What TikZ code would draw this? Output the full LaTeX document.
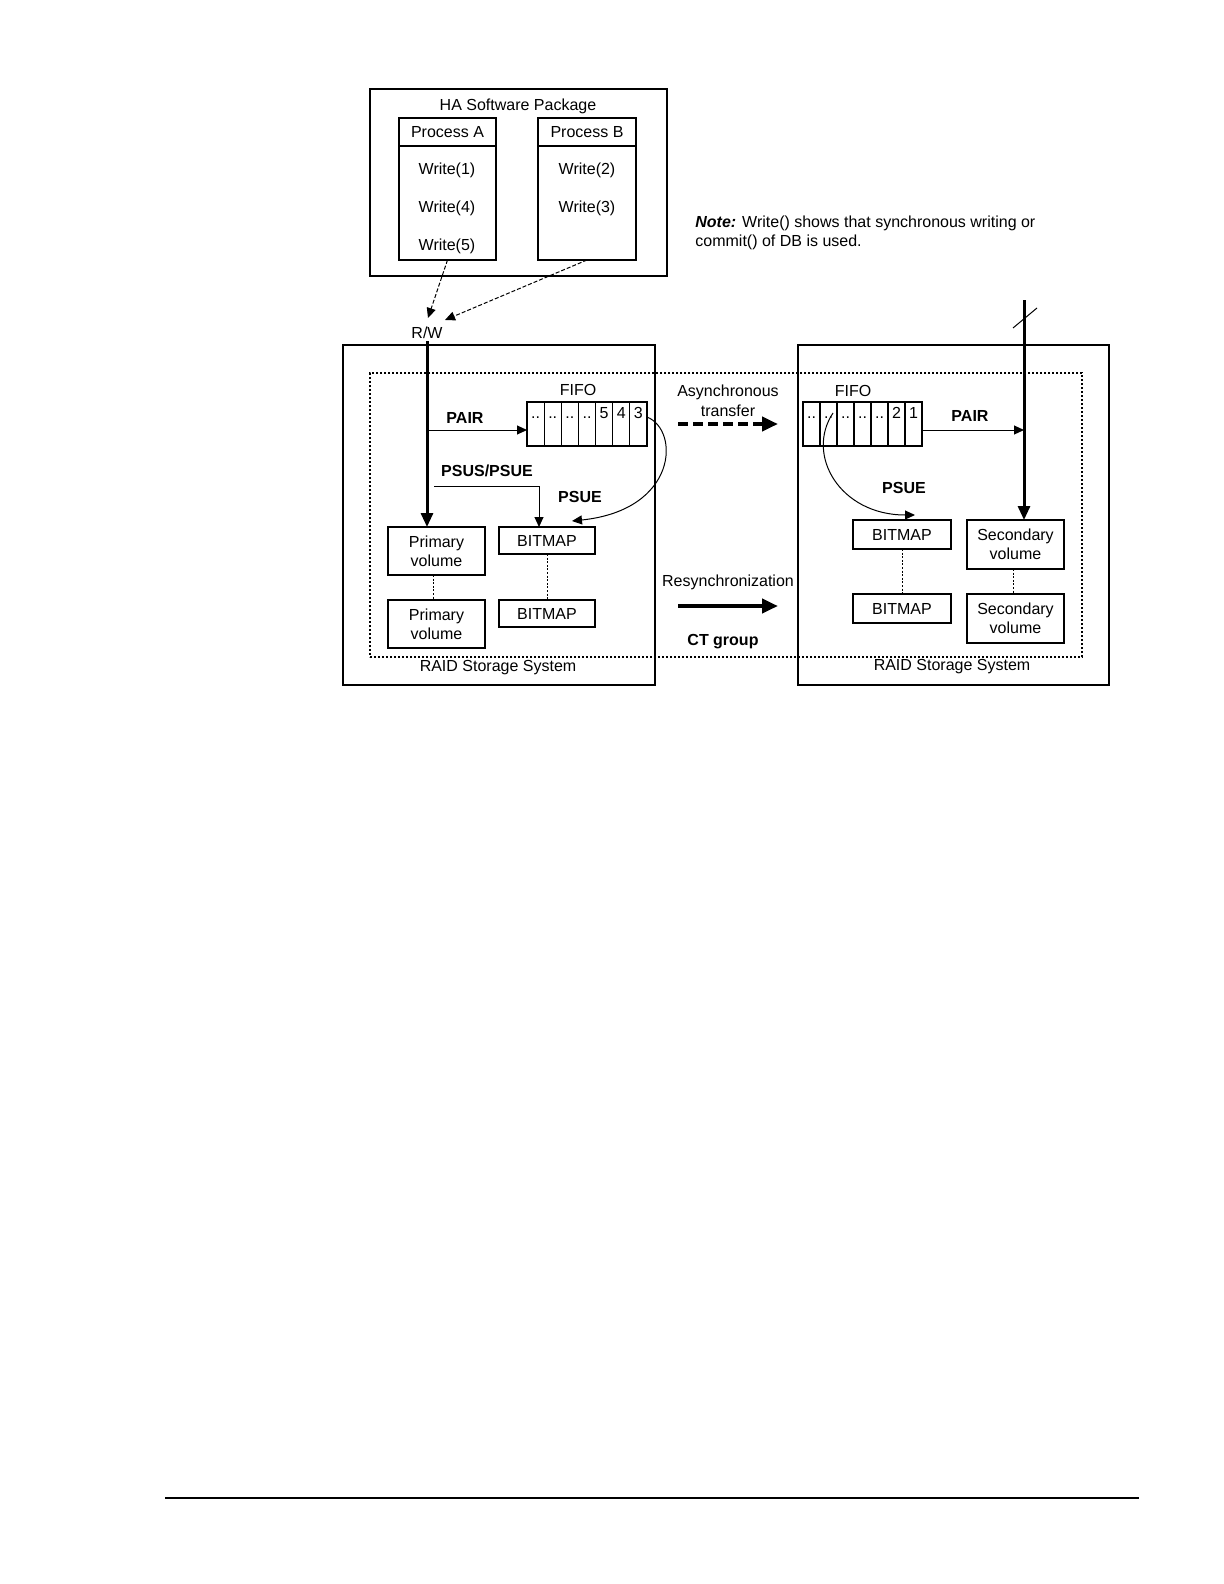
\documentclass[tikz,border=0pt]{standalone}
\usepackage{fontspec}
\setmainfont{Liberation Sans}
\usetikzlibrary{arrows.meta,positioning}

\begin{document}
\begin{tikzpicture}[x=0.5pt, y=-0.5pt,
  every node/.style={font=\fontsize{8}{9.6}\selectfont, inner sep=0pt},
  box/.style={rectangle, draw, line width=0.7pt, outer sep=0pt, align=center},
  sysbox/.style={box, line width=0.6pt},
  cell/.style={rectangle, draw, line width=0.6pt, outer sep=0pt,
               minimum width=8.57pt, minimum height=22pt},
  lbl/.style={font=\fontsize{8}{9.6}\selectfont\bfseries},
  arrow/.style={-{Triangle[length=5pt,width=4.5pt]}, line width=0.5pt},
  dasharrow/.style={arrow, dash pattern=on 2pt off 1pt},
  thickarrow/.style={-{Triangle[length=7pt,width=6pt]}, line width=1.5pt},
  bigarrow/.style={-{Triangle[length=8pt,width=7pt]}, line width=2pt},
  link/.style={dash pattern=on 1pt off 0.8pt, line width=0.5pt}
]
  \useasboundingbox (0,0) rectangle (1224,1584);

  % host side
  \node[box, minimum width=148.5pt, minimum height=93.5pt] (ha) at (518.5,182.5) {};
  \node (hatitle) at (518,106) {HA Software Package};

  \node[box, minimum width=48.5pt, minimum height=14pt] (pa) at (447.5,132) {Process A};
  \node[box, minimum width=48.5pt, minimum height=57pt, below=0pt of pa] (pabody) {};
  \node[box, minimum width=49pt, minimum height=14pt] (pb) at (587,132) {Process B};
  \node[box, minimum width=49pt, minimum height=57pt, below=0pt of pb] (pbbody) {};

  \node (w1) at (447,170) {Write(1)};
  \node (w4) at (447,208) {Write(4)};
  \node (w5) at (447,246) {Write(5)};
  \node (w2) at (587,170) {Write(2)};
  \node (w3) at (587,208) {Write(3)};

  \node[align=left, anchor=west] (note) at (695,233)
    {{\bfseries\itshape Note:} Write() shows that synchronous writing or\\commit() of DB is used.};

  \node (rw) at (427,333) {R/W};
  \coordinate (rwa) at (428,318);
  \coordinate (rwb) at (445,320);
  \draw[dasharrow] (pabody.south) -- (rwa);
  \draw[dasharrow] (pbbody.south) -- (rwb);

  % storage systems
  \node[sysbox, minimum width=156pt, minimum height=170pt] (raidL) at (499,515) {};
  \node[sysbox, minimum width=155.5pt, minimum height=170pt] (raidR) at (953.5,515) {};
  \node[rectangle, draw, dash pattern=on 1.2pt off 0.8pt, line width=0.55pt,
        minimum width=356pt, minimum height=142pt] (ctbox) at (726,515) {};
  \node (raidLlbl) at (498,668) {RAID Storage System};
  \node (raidRlbl) at (952,667) {RAID Storage System};

  % FIFO queues
  \node (fifoLlbl) at (578,390) {FIFO};
  \foreach \cellval [count=\i] in {{..},{..},{..},{..},5,4,3} {
    \node[cell] (fl\i) at ({527+17.14*(\i-0.5)},424) {};
    \node[anchor=base] at ({527+17.14*(\i-0.5)},418) {\cellval};
  }
  \node (fifoRlbl) at (853,391) {FIFO};
  \foreach \cellval [count=\i] in {{..},{..},{..},{..},{..},2,1} {
    \node[cell] (fr\i) at ({803+17*(\i-0.5)},424) {};
    \node[anchor=base] at ({803+17*(\i-0.5)},418) {\cellval};
  }

  % volumes and bitmaps
  \node[box, minimum width=48.5pt, minimum height=24pt] (pv1) at (436.5,551) {Primary\\volume};
  \node[box, minimum width=48.5pt, minimum height=24pt] (pv2) at (436.5,624) {Primary\\volume};
  \node[box, minimum width=48pt, minimum height=13.5pt] (bmL1) at (547,540.5) {BITMAP};
  \node[box, minimum width=48pt, minimum height=13.5pt] (bmL2) at (547,613.5) {BITMAP};
  \node[box, minimum width=49pt, minimum height=14.5pt] (bmR1) at (902,534.5) {BITMAP};
  \node[box, minimum width=49pt, minimum height=14.5pt] (bmR2) at (902,608.5) {BITMAP};
  \node[box, minimum width=48.5pt, minimum height=24.5pt] (sv1) at (1015.5,544.5) {Secondary\\volume};
  \node[box, minimum width=48.5pt, minimum height=24.5pt] (sv2) at (1015.5,618.5) {Secondary\\volume};

  \draw[link] ([xshift=-1.75pt]pv1.south) -- ([xshift=-1.75pt]pv2.north);
  \draw[link] (bmL1.south) -- (bmL2.north);
  \draw[link] (bmR1.south) -- (bmR2.north);
  \draw[link] ([xshift=-1.25pt]sv1.south) -- ([xshift=-1.25pt]sv2.north);

  % primary side flows
  \draw[thickarrow] ([yshift=-1pt]rw.south) -- (rw.south |- pv1.north);
  \coordinate (pairL) at ([yshift=-3pt]fl1.west);
  \draw[arrow] (pairL -| rw.south) -- (pairL);
  \node[lbl] (pairLlbl) at (465,418) {PAIR};

  \coordinate (psus) at (434,486);
  \coordinate (psusend) at ([xshift=-4pt]bmL1.north);
  \draw[arrow] (psus) -| (psusend);
  \node[lbl] (psuslbl) at (487,471) {PSUS/PSUE};

  \coordinate (psueL) at ([xshift=12.5pt,yshift=3pt]bmL1.north);
  \draw[arrow] ([yshift=3.5pt]fl7.east) .. controls (680,430) and (678,510) .. (psueL);
  \node[lbl] (psueLlbl) at (580,497) {PSUE};

  % transfer between systems
  \node[align=center, font=\fontsize{8}{10}\selectfont] (async) at (728,401) {Asynchronous\\transfer};
  \coordinate (as1) at (678,424);
  \coordinate (as2) at (778,424);
  \draw[bigarrow, dash pattern=on 5pt off 2.5pt] (as1) -- (as2);

  \node (resync) at (728,582) {Resynchronization};
  \coordinate (rs1) at (678,606);
  \coordinate (rs2) at (778,606);
  \draw[bigarrow] (rs1) -- (rs2);
  \node[lbl] (ct) at (723,642) {CT group};

  % secondary side flows
  \coordinate (sectop) at (1024,300);
  \draw[thickarrow] (sectop) -- (sectop |- sv1.north);
  \draw[line width=0.5pt] (1013,328) -- (1037,308);
  \coordinate (pairR) at ([yshift=-3pt]fr7.east);
  \draw[arrow] (pairR) -- (pairR -| sectop);
  \node[lbl] (pairRlbl) at (970,416) {PAIR};

  \coordinate (psueR) at ([xshift=6.5pt,yshift=2.5pt]bmR1.north);
  \draw[arrow] ([xshift=2.25pt,yshift=5.5pt]fr2.center) .. controls (805,455) and (840,515) .. (psueR);
  \node[lbl] (psueRlbl) at (904,488) {PSUE};

  % page rule
  \draw[line width=1pt] (165,1498) -- (1139,1498);
\end{tikzpicture}
\end{document}
